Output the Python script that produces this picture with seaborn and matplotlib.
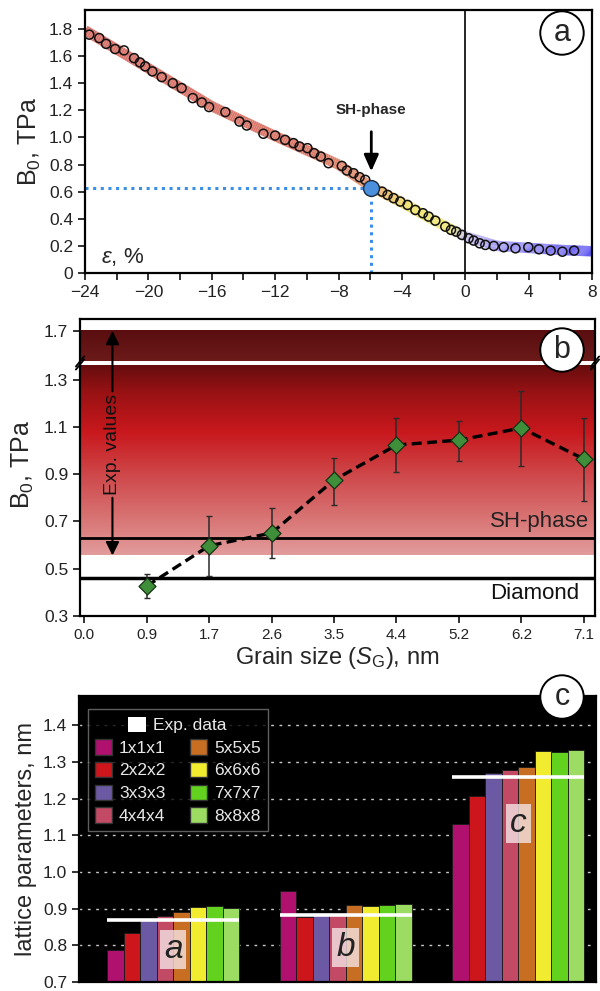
import numpy as np
import pandas as pd
import matplotlib
matplotlib.use("Agg")
import matplotlib.pyplot as plt
from matplotlib.collections import LineCollection
from matplotlib.colors import LinearSegmentedColormap
from matplotlib.patches import Patch
import seaborn as sns

# ---- panel a: bulk modulus vs strain ----
eps = [-23.73, -23.1, -22.67, -22.1, -21.54, -20.9, -20.53, -20.2, -19.75, -19.16,
       -18.46, -17.9, -17.2, -16.63, -16.17, -15.14, -14.25, -13.79, -12.74, -12.0,
       -11.37, -10.84, -10.46, -9.96, -9.54, -9.12, -8.63, -7.79, -7.47, -7.05,
       -6.67, -6.31, -5.25, -4.9, -4.52, -4.1, -3.64, -3.15, -2.67, -2.31,
       -1.89, -1.26, -0.9, -0.57, -0.21, 0.21, 0.53, 0.91, 1.27, 1.8,
       2.43, 3.17, 3.98, 4.65, 5.39, 6.13, 6.87]
b0 = [1.758, 1.733, 1.69, 1.652, 1.642, 1.585, 1.553, 1.524, 1.487, 1.445,
      1.4, 1.364, 1.29, 1.258, 1.224, 1.187, 1.117, 1.088, 1.027, 1.014,
      0.982, 0.958, 0.933, 0.921, 0.884, 0.859, 0.81, 0.79, 0.756, 0.736,
      0.707, 0.687, 0.60, 0.576, 0.552, 0.527, 0.502, 0.465, 0.441, 0.416,
      0.386, 0.342, 0.318, 0.305, 0.281, 0.256, 0.239, 0.219, 0.207, 0.199,
      0.19, 0.182, 0.19, 0.175, 0.165, 0.157, 0.165]
band_eps = [-24.0, -20.0, -16.0, -12.0, -8.0, -6.0, -4.0, -2.0, 0.0, 2.0, 4.0, 6.0, 8.0]
band_b0 = [1.79, 1.51, 1.23, 1.01, 0.80, 0.64, 0.52, 0.39, 0.27, 0.20, 0.185, 0.17, 0.16]
sh_eps, sh_b0 = -5.93, 0.625

# ---- panel b: bulk modulus vs grain size ----
grain_labels = ["0.0", "0.9", "1.7", "2.6", "3.5", "4.4", "5.2", "6.2", "7.1"]
grain_b0 = [0.427, 0.597, 0.651, 0.875, 1.023, 1.044, 1.095, 0.964]
grain_lo = [0.376, 0.47, 0.545, 0.769, 0.909, 0.955, 0.934, 0.786]
grain_hi = [0.478, 0.723, 0.757, 0.968, 1.137, 1.126, 1.252, 1.137]
sh_phase_b0 = 0.63
diamond_b0 = 0.46
exp_low, exp_high = 0.556, 1.70

# ---- panel c: lattice parameters ----
params = ["a", "b", "c"]
cells = ["1x1x1", "2x2x2", "3x3x3", "4x4x4", "5x5x5", "6x6x6", "7x7x7", "8x8x8"]
lat_a = [0.787, 0.834, 0.868, 0.880, 0.892, 0.905, 0.908, 0.901]
lat_b = [0.948, 0.878, 0.889, 0.884, 0.910, 0.907, 0.909, 0.913]
lat_c = [1.130, 1.208, 1.271, 1.278, 1.287, 1.329, 1.328, 1.332]
exp_lat = [0.869, 0.883, 1.259]
cell_colors = ["#b0106e", "#cc161c", "#6b5aa3", "#c24a64", "#c86e22",
               "#f2ec30", "#62d21e", "#9ddc62"]

sns.set_theme(style="ticks")
plt.rcParams["font.family"] = ["Liberation Sans", "DejaVu Sans"]
plt.rcParams["mathtext.fontset"] = "custom"
plt.rcParams["mathtext.rm"] = "Liberation Sans"
plt.rcParams["mathtext.it"] = "Liberation Sans:italic"
plt.rcParams["axes.edgecolor"] = "black"
plt.rcParams["axes.linewidth"] = 1.6
plt.rcParams["xtick.color"] = "#222"
plt.rcParams["ytick.color"] = "#222"

fig = plt.figure(figsize=(6, 9.91), dpi=100)
H = 991.0
W = 600.0


def box(l, t, r, b):
    return [l / W, 1 - b / H, (r - l) / W, (b - t) / H]


# ======== panel a ========
ax = fig.add_axes(box(85, 10, 592, 273))
band_cmap = LinearSegmentedColormap.from_list(
    "band", [(0.0, "#d8736c"), (0.45, "#dc7a6a"), (0.55, "#e4906a"),
             (0.6, "#eec060"), (0.64, "#f0e262"), (0.72, "#efe878"),
             (0.75, "#c8c0e8"), (0.8, "#a49cf4"), (1.0, "#5a50f2")])
pts = np.column_stack([band_eps, band_b0])
xs = np.interp(np.linspace(0, len(pts) - 1, 400), np.arange(len(pts)), pts[:, 0])
ys = np.interp(xs, band_eps, band_b0)
seg_pts = np.column_stack([xs, ys]).reshape(-1, 1, 2)
segs = np.concatenate([seg_pts[:-1], seg_pts[1:]], axis=1)
lc = LineCollection(segs, cmap=band_cmap, norm=plt.Normalize(-24, 8),
                    linewidth=7.5, capstyle="butt", zorder=1)
lc.set_array(xs[:-1])
ax.add_collection(lc)

ax.plot([-24, sh_eps], [sh_b0, sh_b0], ls=(0, (1, 1.5)), color="#3a8ee6", lw=2.2, zorder=2)
ax.plot([sh_eps, sh_eps], [0, sh_b0], ls=(0, (1, 1.5)), color="#3a8ee6", lw=2.2, zorder=2)
ax.axvline(0, color="black", lw=1.2, zorder=2)

sns.scatterplot(x=eps, y=b0, ax=ax, s=42, facecolor="none", edgecolor="#111",
                linewidth=1.1, zorder=3)
sns.scatterplot(x=[sh_eps], y=[sh_b0], ax=ax, s=130, color="#4a90dc",
                edgecolor="#1a2a40", linewidth=1.0, zorder=4)
ax.annotate("SH-phase", xy=(sh_eps, 0.75), xytext=(sh_eps, 1.2),
            ha="center", va="center", fontsize=11, fontweight="bold",
            arrowprops=dict(arrowstyle="-|>,head_length=0.9,head_width=0.4",
                            color="black", lw=2, shrinkA=8, shrinkB=0))
ax.text(-23.0, 0.12, r"$\varepsilon$, %", fontsize=16, va="center", ha="left")
ax.set_xlim(-24, 8)
ax.set_ylim(0, 1.94)
ax.set_xticks(np.arange(-24, 9, 4))
ax.set_xticks(np.arange(-22, 8, 4), minor=True)
ax.set_yticks(np.arange(0, 1.81, 0.2))
ax.set_yticklabels(["0"] + [f"{v:.1f}" for v in np.arange(0.2, 1.81, 0.2)])
ax.tick_params(axis="both", which="both", direction="out", length=5, width=1.3,
               labelsize=12.5)
ax.set_ylabel(r"B$_0$, TPa", fontsize=18, labelpad=4)

# ======== panel b (broken axis) ========
ax_top = fig.add_axes(box(80, 319, 595, 363))
ax_low = fig.add_axes(box(80, 363, 595, 616))
grad_cmap = LinearSegmentedColormap.from_list(
    "grad", [(0.0, "#e29c9c"), (0.12, "#dc8282"), (0.4, "#cf4c4e"),
             (0.65, "#c8181d"), (0.85, "#9a1214"), (1.0, "#660d0e")])
xl = (-0.07, 8.18)
grad = np.linspace(0, 1, 256).reshape(-1, 1)
ax_low.imshow(grad, cmap=grad_cmap, origin="lower", aspect="auto",
              extent=[xl[0], xl[1], exp_low, 1.357], zorder=0)
top_cmap = LinearSegmentedColormap.from_list("top", ["#6c1a1a", "#5a0e0f"])
ax_top.imshow(grad, cmap=top_cmap, origin="lower", aspect="auto",
              extent=[xl[0], xl[1], 1.572, exp_high], zorder=0)

ax_low.axhline(sh_phase_b0, color="black", lw=2, zorder=2)
ax_low.axhline(diamond_b0, color="black", lw=2.5, zorder=2)

gx = np.arange(1, len(grain_labels))
gy = np.array(grain_b0)
ax_low.errorbar(gx, gy, yerr=[gy - np.array(grain_lo), np.array(grain_hi) - gy],
                fmt="none", ecolor="#2a2a2a", elinewidth=1.1, capsize=2.5, zorder=3)
sns.lineplot(x=gx, y=gy, ax=ax_low, color="black", lw=2.4, linestyle=(0, (3, 1.6)),
             zorder=4)
sns.scatterplot(x=gx, y=gy, ax=ax_low, marker="D", s=75, color="#3f8f3a",
                edgecolor="#163016", linewidth=0.9, zorder=5)

ax_low.text(8.08, 0.70, "SH-phase", ha="right", va="center", fontsize=16, color="#222")
ax_low.text(7.93, 0.395, "Diamond", ha="right", va="center", fontsize=16, color="#111")

# "Exp. values" double arrow
ax_low.annotate("", xy=(0.45, 1.25), xytext=(0.45, exp_high), xycoords="data",
                textcoords=ax_top.transData,
                arrowprops=dict(arrowstyle="<|-", color="black", lw=1.5,
                                shrinkA=0, shrinkB=0, mutation_scale=20))
ax_low.annotate("", xy=(0.45, exp_low), xytext=(0.45, 0.80),
                arrowprops=dict(arrowstyle="-|>", color="black", lw=1.5,
                                shrinkA=0, shrinkB=0, mutation_scale=20))
ax_low.text(0.45, 1.025, "Exp. values", rotation=90, ha="center", va="center",
            fontsize=14, color="#111")

for a_ in (ax_top, ax_low):
    a_.set_xlim(*xl)
    a_.tick_params(axis="both", direction="out", length=5, width=1.3, labelsize=12.5)
ax_top.set_ylim(1.564, 1.75)
ax_top.set_yticks([1.7])
ax_top.set_xticks([])
ax_top.spines["bottom"].set_visible(False)
ax_low.spines["top"].set_visible(False)
ax_low.set_ylim(0.3, 1.37)
ax_low.set_yticks(np.arange(0.3, 1.31, 0.2))
ax_low.set_yticklabels([f"{v:.1f}" for v in np.arange(0.3, 1.31, 0.2)])
ax_low.set_xticks(range(len(grain_labels)))
ax_low.set_xticklabels(grain_labels, fontsize=11)
ax_low.set_xlabel(r"Grain size ($S_{\rm G}$), nm", fontsize=17, labelpad=2)
ax_low.set_ylabel(r"B$_0$, TPa", fontsize=18, labelpad=4)
ax_low.yaxis.set_label_coords(-0.085, 0.6)

# break marks
for xa in (0.0, 1.0):
    for dy in (-0.006, 0.006):
        ax_low.plot([xa - 0.008, xa + 0.008], [1.0 + dy - 0.02, 1.0 + dy + 0.02],
                    transform=ax_low.transAxes, color="black", lw=1.3, clip_on=False)

# ======== panel c ========
axc = fig.add_axes(box(79, 696, 596, 982))
axc.set_facecolor("black")
df = pd.DataFrame({
    "param": np.repeat(params, len(cells)),
    "cell": cells * len(params),
    "value": lat_a + lat_b + lat_c,
})
bar_w = 0.765
sns.barplot(data=df, x="param", y="value", hue="cell", palette=cell_colors,
            saturation=1, width=bar_w, edgecolor="#1a1a1a", linewidth=0.6, ax=axc,
            legend=False, zorder=2)
axc.yaxis.grid(True, linestyle=(0, (2, 4)), color="#c8c8c8", lw=1.0, zorder=0)
axc.set_axisbelow(True)
for i, ev in enumerate(exp_lat):
    axc.hlines(ev, i - bar_w / 2, i + bar_w / 2, color="white", lw=2.6, zorder=4)
for i, (p, yv) in enumerate(zip(params, [0.79, 0.795, 1.133])):
    axc.text(i, yv, p, ha="center", va="center", fontsize=24, style="italic",
             color="#222", zorder=5,
             bbox=dict(boxstyle="square,pad=0.12", fc="#f4e4e4", ec="none", alpha=0.8))
axc.set_xlim(-0.545, 2.45)
axc.set_ylim(0.7, 1.48)
axc.set_yticks(np.arange(0.7, 1.41, 0.1))
axc.set_yticklabels([f"{v:.1f}" for v in np.arange(0.7, 1.41, 0.1)])
axc.set_xticks([])
axc.set_xlabel("")
axc.set_ylabel("lattice parameters, nm", fontsize=17, labelpad=4)
axc.tick_params(axis="y", direction="out", length=5, width=1.3, labelsize=12.5)

handles = [Patch(facecolor=c, edgecolor="#333", label=n) for c, n in zip(cell_colors, cells)]
leg = axc.legend(handles=handles, ncol=2, loc="upper left",
                 bbox_to_anchor=(0.0, 0.985), title=" ", title_fontsize=13,
                 fontsize=12.5, frameon=True, fancybox=False,
                 handlelength=1.0, handleheight=1.0, columnspacing=1.4,
                 handletextpad=0.4, labelspacing=0.35, borderpad=0.4)
leg.get_frame().set_facecolor("black")
leg.get_frame().set_edgecolor("#777")
leg.get_frame().set_linewidth(1.0)
for t in leg.get_texts():
    t.set_color("#e8e8e8")
axc.add_artist(leg)
leg2 = axc.legend(handles=[Patch(facecolor="white", edgecolor="none", label="Exp. data")],
                  loc="upper center", bbox_to_anchor=(0.19, 0.982), frameon=False,
                  fontsize=12.5, handlelength=1.0, handleheight=1.0, handletextpad=0.4)
for t in leg2.get_texts():
    t.set_color("#e8e8e8")

# panel letters
for letter, (cx, cy) in zip("abc", [(562, 33), (562, 350), (562, 697)]):
    fig.text(cx / W, 1 - cy / H, letter, ha="center", va="center", fontsize=22,
             bbox=dict(boxstyle="circle,pad=0.22", fc="white", ec="black", lw=1.4),
             zorder=10)

fig.savefig("out.png", dpi=100)
